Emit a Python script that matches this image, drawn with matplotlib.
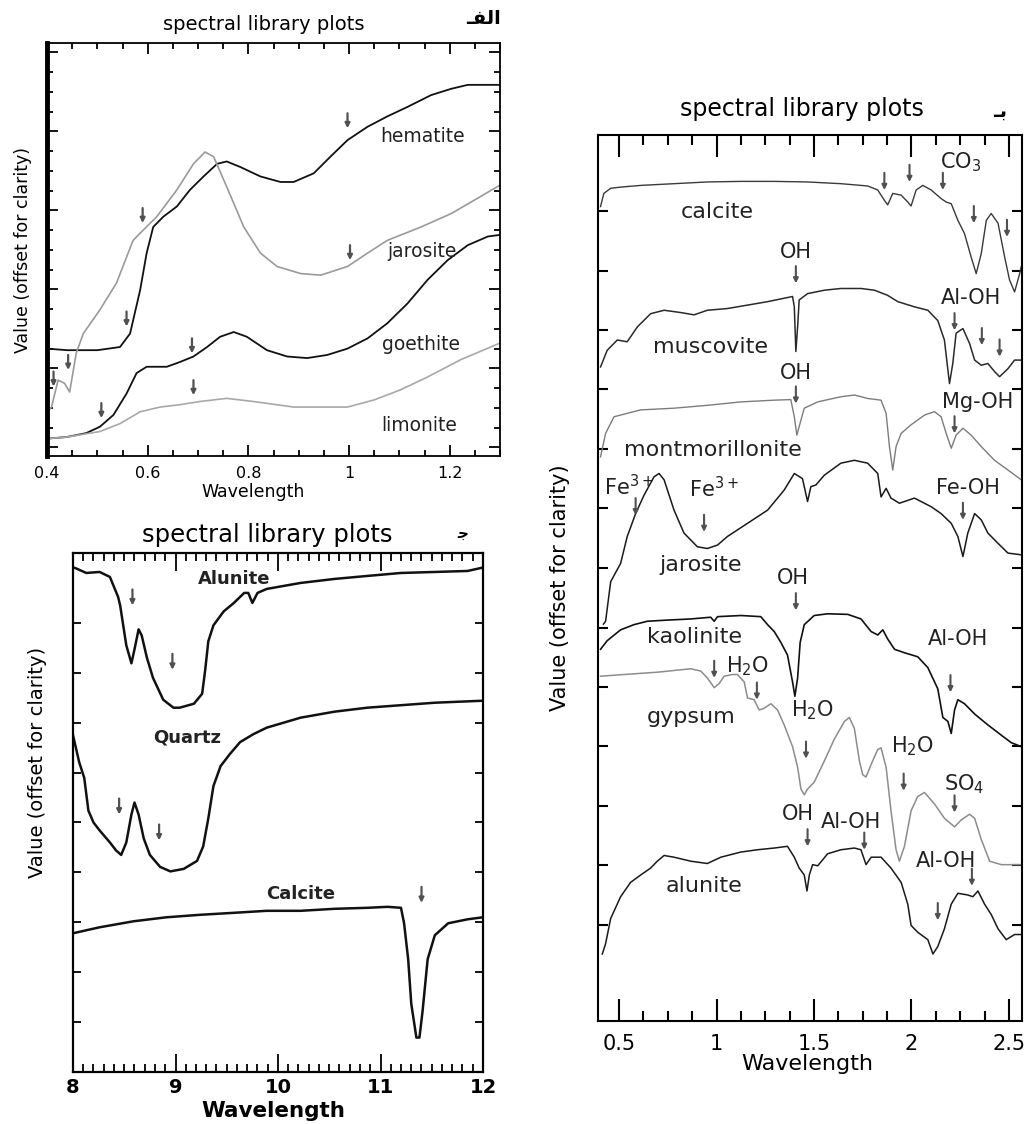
import numpy as np
import matplotlib
matplotlib.use('Agg')
import matplotlib.pyplot as plt

plt.rcParams['font.family'] = ['DejaVu Sans']

W, H = 1025, 1124

# ---- panel A (visible range) ----
a_hem_x = [0.40, 0.44, 0.50, 0.545, 0.565, 0.585, 0.598, 0.611, 0.631, 0.658, 0.684, 0.711, 0.738, 0.757,
           0.784, 0.824, 0.864, 0.89, 0.93, 0.963, 0.997, 1.037, 1.076, 1.116, 1.163, 1.203, 1.236, 1.30]
a_hem_y = [1.36, 1.34, 1.34, 1.38, 1.55, 2.10, 2.57, 2.90, 3.03, 3.16, 3.37, 3.54, 3.70, 3.73,
           3.66, 3.54, 3.47, 3.47, 3.58, 3.79, 4.00, 4.17, 4.30, 4.42, 4.57, 4.65, 4.70, 4.70]
a_jar_x = [0.40, 0.409, 0.422, 0.435, 0.445, 0.458, 0.472, 0.505, 0.538, 0.571, 0.591, 0.618, 0.658, 0.691, 0.714,
           0.731, 0.757, 0.791, 0.824, 0.857, 0.904, 0.944, 0.997, 1.037, 1.076, 1.143, 1.203, 1.249, 1.30]
a_jar_y = [0.55, 0.62, 0.96, 0.92, 0.81, 1.30, 1.55, 1.85, 2.19, 2.73, 2.86, 3.03, 3.37, 3.70, 3.85,
           3.79, 3.41, 2.90, 2.57, 2.40, 2.31, 2.29, 2.40, 2.57, 2.73, 2.90, 3.07, 3.24, 3.43]
a_goe_x = [0.40, 0.439, 0.478, 0.505, 0.532, 0.558, 0.578, 0.598, 0.638, 0.664, 0.691, 0.718, 0.744, 0.771,
           0.797, 0.837, 0.877, 0.917, 0.957, 0.997, 1.037, 1.076, 1.116, 1.156, 1.196, 1.236, 1.276, 1.30]
a_goe_y = [0.22, 0.24, 0.29, 0.37, 0.52, 0.79, 1.05, 1.13, 1.13, 1.19, 1.26, 1.38, 1.51, 1.57,
           1.51, 1.34, 1.26, 1.24, 1.28, 1.36, 1.49, 1.68, 1.93, 2.23, 2.48, 2.67, 2.78, 2.80]
a_lim_x = [0.40, 0.439, 0.505, 0.545, 0.585, 0.625, 0.664, 0.704, 0.757, 0.81, 0.89, 0.944, 0.997, 1.05,
           1.103, 1.156, 1.222, 1.30]
a_lim_y = [0.22, 0.24, 0.31, 0.41, 0.56, 0.62, 0.65, 0.69, 0.73, 0.69, 0.62, 0.62, 0.62, 0.71,
           0.84, 1.00, 1.22, 1.43]
a_names = ['hematite', 'jarosite', 'goethite', 'limonite']
a_name_x = [1.146, 1.146, 1.143, 1.14]
a_name_y = [4.04, 2.59, 1.41, 0.39]
a_arrow_x = [0.997, 0.558, 0.59, 1.002, 0.413, 0.442, 0.508, 0.688, 0.691]
a_arrow_y = [4.15, 1.64, 2.95, 2.48, 0.88, 1.09, 0.48, 1.30, 0.77]
a_ticks = ['0.4', '0.6', '0.8', '1', '1.2']

# ---- panel B (0.4 - 2.5) ----
b_cal_x = [0.405, 0.422, 0.457, 0.508, 0.611, 0.782, 0.953, 1.125, 1.296, 1.467, 1.638, 1.775, 1.827,
           1.861, 1.878, 1.904, 1.947, 1.981, 1.998, 2.024, 2.058, 2.101, 2.152, 2.178, 2.204, 2.238,
           2.272, 2.306, 2.332, 2.358, 2.384, 2.409, 2.444, 2.478, 2.503, 2.529, 2.555, 2.563]
b_cal_y = [13.09, 13.32, 13.41, 13.43, 13.46, 13.49, 13.52, 13.53, 13.53, 13.52, 13.49, 13.45, 13.38,
           13.20, 13.12, 13.32, 13.29, 13.17, 13.10, 13.38, 13.46, 13.38, 13.23, 13.17, 13.14, 12.85,
           12.62, 12.21, 11.92, 12.27, 12.85, 12.97, 12.80, 12.21, 11.81, 11.60, 11.92, 12.04]
b_mus_x = [0.405, 0.439, 0.491, 0.542, 0.594, 0.662, 0.731, 0.816, 0.885, 0.953, 1.056, 1.159, 1.262,
           1.347, 1.39, 1.399, 1.407, 1.416, 1.424, 1.467, 1.553, 1.638, 1.741, 1.81, 1.878, 1.93, 2.015,
           2.084, 2.135, 2.169, 2.195, 2.212, 2.229, 2.264, 2.298, 2.324, 2.358, 2.392, 2.426, 2.452,
           2.495, 2.529, 2.563]
b_mus_y = [10.29, 10.58, 10.76, 10.73, 10.99, 11.22, 11.28, 11.24, 11.20, 11.28, 11.31, 11.37, 11.43,
           11.49, 11.52, 11.34, 10.56, 10.99, 11.46, 11.57, 11.63, 11.66, 11.66, 11.63, 11.54, 11.43, 11.34,
           11.28, 11.10, 10.76, 10.00, 10.35, 10.88, 10.96, 10.70, 10.41, 10.32, 10.35, 10.21, 10.12,
           10.26, 10.41, 10.41]
b_mon_x = [0.405, 0.431, 0.474, 0.542, 0.611, 0.782, 0.953, 1.125, 1.296, 1.381, 1.399, 1.412, 1.424,
           1.45, 1.519, 1.638, 1.707, 1.775, 1.844, 1.87, 1.887, 1.904, 1.921, 1.947, 1.998, 2.067, 2.118,
           2.152, 2.178, 2.204, 2.229, 2.264, 2.306, 2.358, 2.426, 2.495, 2.563]
b_mon_y = [8.72, 9.13, 9.42, 9.48, 9.54, 9.57, 9.62, 9.68, 9.71, 9.72, 9.42, 9.10, 9.25,
           9.57, 9.68, 9.77, 9.80, 9.74, 9.71, 9.48, 8.90, 8.49, 8.90, 9.13, 9.28, 9.45, 9.51,
           9.42, 9.13, 8.87, 9.10, 9.22, 9.10, 8.90, 8.66, 8.49, 8.32]
b_jar_x = [0.42, 0.431, 0.457, 0.508, 0.542, 0.585, 0.628, 0.679, 0.705, 0.731, 0.782, 0.833, 0.902,
           0.953, 1.005, 1.056, 1.159, 1.262, 1.347, 1.399, 1.441, 1.467, 1.484, 1.51, 1.553, 1.638, 1.707,
           1.775, 1.827, 1.844, 1.87, 1.895, 1.938, 2.015, 2.101, 2.152, 2.204, 2.238, 2.264, 2.289, 2.324,
           2.358, 2.392, 2.444, 2.495, 2.563]
b_jar_y = [5.80, 5.85, 6.54, 6.86, 7.33, 7.73, 8.05, 8.37, 8.43, 8.32, 7.79, 7.39, 7.15,
           7.12, 7.18, 7.33, 7.56, 7.79, 8.14, 8.43, 8.34, 7.94, 8.20, 8.23, 8.40, 8.61, 8.66,
           8.61, 8.43, 8.02, 8.17, 8.00, 7.91, 8.00, 7.85, 7.73, 7.56, 7.33, 6.98, 7.39, 7.73,
           7.62, 7.39, 7.21, 7.04, 7.01]
b_kao_x = [0.405, 0.439, 0.508, 0.576, 0.645, 0.748, 0.868, 0.970, 0.988, 1.005, 1.125, 1.227, 1.262,
           1.296, 1.33, 1.364, 1.39, 1.402, 1.416, 1.429, 1.45, 1.501, 1.57, 1.673, 1.741, 1.793, 1.827,
           1.853, 1.878, 1.913, 1.964, 2.032, 2.084, 2.135, 2.161, 2.187, 2.204, 2.221, 2.238, 2.272,
           2.324, 2.392, 2.461, 2.512, 2.563]
b_kao_y = [5.36, 5.51, 5.70, 5.79, 5.85, 5.87, 5.89, 5.92, 5.85, 5.93, 5.95, 5.93, 5.79,
           5.67, 5.48, 5.26, 4.79, 4.54, 4.86, 5.48, 5.79, 5.95, 5.98, 5.97, 5.89, 5.67, 5.61,
           5.70, 5.54, 5.36, 5.30, 5.23, 5.04, 4.67, 4.17, 4.10, 3.89, 4.30, 4.48, 4.41,
           4.23, 4.04, 3.86, 3.73, 3.66]
b_gyp_x = [0.405, 0.525, 0.696, 0.868, 0.919, 0.953, 0.988, 1.013, 1.039, 1.082, 1.107, 1.142, 1.159,
           1.193, 1.219, 1.244, 1.279, 1.313, 1.347, 1.39, 1.416, 1.433, 1.45, 1.467, 1.501, 1.553, 1.604,
           1.656, 1.681, 1.707, 1.733, 1.75, 1.767, 1.793, 1.827, 1.844, 1.87, 1.895, 1.921, 1.938, 1.964,
           1.998, 2.032, 2.067, 2.118, 2.169, 2.221, 2.255, 2.298, 2.324, 2.358, 2.401, 2.461, 2.563]
b_gyp_y = [4.89, 4.92, 4.96, 5.02, 4.98, 4.86, 4.69, 4.76, 4.89, 4.92, 4.92, 4.79, 4.51,
           4.48, 4.30, 4.33, 4.41, 4.30, 4.04, 3.66, 3.30, 2.92, 2.82, 2.92, 3.04, 3.41, 3.79,
           4.10, 4.17, 3.98, 3.41, 3.17, 3.13, 3.35, 3.61, 3.64, 3.30, 2.54, 1.86, 1.66, 1.92,
           2.54, 2.79, 2.86, 2.66, 2.41, 2.26, 2.38, 2.48, 2.41, 2.04, 1.66, 1.60, 1.60]
b_alu_x = [0.414, 0.431, 0.457, 0.508, 0.559, 0.611, 0.662, 0.696, 0.731, 0.782, 0.868, 0.953, 1.022,
           1.125, 1.21, 1.296, 1.364, 1.399, 1.424, 1.45, 1.464, 1.476, 1.493, 1.519, 1.57, 1.638, 1.707,
           1.741, 1.767, 1.793, 1.844, 1.895, 1.947, 1.981, 1.998, 2.032, 2.084, 2.11, 2.135, 2.169, 2.204,
           2.238, 2.289, 2.315, 2.341, 2.375, 2.409, 2.444, 2.486, 2.529, 2.563]
b_alu_y = [0.04, 0.22, 0.66, 1.04, 1.29, 1.42, 1.54, 1.66, 1.76, 1.73, 1.66, 1.62, 1.73,
           1.82, 1.86, 1.89, 1.92, 1.73, 1.54, 1.42, 1.14, 1.42, 1.60, 1.58, 1.79, 1.86, 1.89,
           1.86, 1.60, 1.73, 1.73, 1.54, 1.29, 0.91, 0.54, 0.42, 0.29, 0.04, 0.17, 0.48, 0.91,
           1.10, 1.07, 1.04, 1.14, 0.91, 0.73, 0.48, 0.29, 0.38, 0.38]
b_names = ['calcite', 'muscovite', 'montmorillonite', 'jarosite', 'kaolinite', 'gypsum', 'alunite']
b_name_x = [1.005, 0.97, 0.979, 0.919, 0.885, 0.868, 0.936]
b_name_y = [13.0, 10.64, 8.84, 6.83, 5.58, 4.17, 1.23]
b_feat = ['OH', 'CO$_3$', 'Al-OH', 'OH', 'Mg-OH', 'Fe$^{3+}$', 'Fe$^{3+}$', 'Fe-OH', 'OH', 'Al-OH',
          'H$_2$O', 'H$_2$O', 'H$_2$O', 'SO$_4$', 'OH', 'Al-OH', 'Al-OH']
b_feat_x = [1.407, 2.25, 2.306, 1.407, 2.341, 0.551, 0.988, 2.289, 1.39, 2.238,
            1.159, 1.493, 2.007, 2.272, 1.416, 1.69, 2.178]
b_feat_y = [12.30, 13.87, 11.49, 10.18, 9.68, 8.20, 8.17, 8.17, 6.61, 5.54,
            5.07, 4.30, 3.66, 3.01, 2.48, 2.35, 1.66]
b_arrow_x = [1.861, 1.99, 2.161, 2.32, 2.49, 1.407, 2.221, 2.361, 2.452, 1.407, 2.221, 0.585, 0.936,
             2.264, 1.407, 2.2, 0.988, 1.207, 1.459, 1.96, 2.221, 1.467, 1.758, 2.31, 2.135]
b_arrow_y = [13.38, 13.52, 13.38, 12.80, 12.56, 11.75, 10.93, 10.67, 10.47, 9.65, 9.13, 7.70, 7.41,
             7.62, 6.04, 4.61, 4.86, 4.48, 3.45, 2.89, 2.51, 1.92, 1.86, 1.23, 0.63]
b_ticks = ['0.5', '1', '1.5', '2', '2.5']

# ---- panel C (8 - 12) ----
c_alu_x = [8.02, 8.13, 8.26, 8.36, 8.44, 8.46, 8.52, 8.57, 8.60, 8.64, 8.67, 8.72, 8.78, 8.88, 8.98,
           9.04, 9.18, 9.26, 9.29, 9.32, 9.37, 9.47, 9.57, 9.67, 9.71, 9.75, 9.80, 9.89, 10.22, 10.55,
           10.87, 11.2, 11.53, 11.85, 11.98]
c_alu_y = [10.10, 10.0, 10.02, 9.92, 9.52, 9.35, 8.55, 8.19, 8.47, 8.87, 8.75, 8.31, 7.90, 7.46, 7.30,
           7.30, 7.38, 7.58, 8.06, 8.63, 8.95, 9.23, 9.40, 9.60, 9.60, 9.40, 9.60, 9.68, 9.80, 9.88,
           9.94, 10.0, 10.02, 10.04, 10.10]
c_qtz_x = [8.0, 8.06, 8.11, 8.15, 8.2, 8.26, 8.36, 8.42, 8.47, 8.52, 8.57, 8.60, 8.64, 8.69, 8.75,
           8.85, 8.95, 9.08, 9.21, 9.27, 9.32, 9.37, 9.44, 9.53, 9.63, 9.76, 9.89, 10.22, 10.55, 10.87,
           11.2, 11.53, 12.0]
c_qtz_y = [6.75, 6.21, 5.89, 5.24, 5.0, 4.84, 4.60, 4.44, 4.35, 4.60, 5.16, 5.40, 5.16, 4.68, 4.35,
           4.11, 4.02, 4.07, 4.23, 4.52, 5.08, 5.73, 6.13, 6.37, 6.61, 6.77, 6.90, 7.10, 7.22, 7.30,
           7.35, 7.40, 7.44]
c_cal_x = [8.0, 8.26, 8.59, 8.91, 9.24, 9.57, 9.89, 10.22, 10.55, 10.87, 11.07, 11.2, 11.23, 11.27,
           11.3, 11.35, 11.38, 11.41, 11.46, 11.53, 11.66, 11.85, 12.0]
c_cal_y = [2.78, 2.90, 3.02, 3.10, 3.15, 3.19, 3.23, 3.23, 3.27, 3.29, 3.31, 3.29, 2.98, 2.26,
           1.37, 0.69, 0.69, 1.21, 2.26, 2.74, 2.98, 3.06, 3.10]
c_names = ['Alunite', 'Quartz', 'Calcite']
c_name_x = [9.57, 9.11, 10.22]
c_name_y = [9.88, 6.71, 3.56]
c_arrow_x = [8.58, 8.97, 8.45, 8.84, 11.40]
c_arrow_y = [9.35, 8.06, 5.16, 4.64, 3.39]
c_ticks = ['8', '9', '10', '11', '12']


def box(left, top, right, bottom):
    return [left / W, 1 - bottom / H, (right - left) / W, (bottom - top) / H]


def ftext(x, y, s, **kw):
    fig.text(x / W, 1 - y / H, s, ha='center', va='center', **kw)


def arrows(ax, xs, ys, length, lw):
    for x, y in zip(xs, ys):
        ax.annotate('', xy=(x, y), xytext=(x, y + length),
                    arrowprops=dict(arrowstyle='-|>', color='#505050', lw=lw,
                                    mutation_scale=7, shrinkA=0, shrinkB=0))


fig = plt.figure(figsize=(W / 100, H / 100), dpi=100)

# panel A
axA = fig.add_axes(box(47, 43, 500, 456))
axA.plot(a_hem_x, a_hem_y, color='#111111', lw=1.3)
axA.plot(a_jar_x, a_jar_y, color='#9a9a9a', lw=1.2)
axA.plot(a_goe_x, a_goe_y, color='#111111', lw=1.3)
axA.plot(a_lim_x, a_lim_y, color='#a8a8a8', lw=1.2)
for n, x, y in zip(a_names, a_name_x, a_name_y):
    axA.text(x, y, n, fontsize=13.5, ha='center', va='center', color='#222222')
arrows(axA, a_arrow_x, a_arrow_y, 0.19, 1.6)
axA.set_xlim(0.4, 1.3)
axA.set_ylim(0, 5.23)
axA.set_xticks([0.4, 0.6, 0.8, 1.0, 1.2])
axA.set_xticklabels(a_ticks)
axA.set_xticks(np.arange(0.4, 1.31, 0.05), minor=True)
axA.set_yticks(np.arange(0.11, 5.2, 1.0))
axA.set_yticks(np.arange(0.11, 5.2, 0.25), minor=True)
axA.tick_params(which='both', direction='in', top=True, right=True, labelleft=False,
                labelsize=11.5, pad=7, width=1.3)
axA.tick_params(which='major', length=8)
axA.tick_params(which='minor', length=4.5)
for s in axA.spines.values():
    s.set_linewidth(1.3)
axA.spines['left'].set_linewidth(3.5)
ftext(264, 25, 'spectral library plots', fontsize=14)
ftext(483, 18, '\u0640\uFED4\uFEDF\uFE8D', fontsize=14, fontweight='bold')
ftext(253, 492, 'Wavelength', fontsize=12.5)
ftext(23, 250, 'Value (offset for clarity)', fontsize=12.5, rotation=90)

# panel B
axB = fig.add_axes(box(598, 135, 1022, 1021))
axB.plot(b_cal_x, b_cal_y, color='#3a3a3a', lw=1.0)
axB.plot(b_mus_x, b_mus_y, color='#2a2a2a', lw=1.1)
axB.plot(b_mon_x, b_mon_y, color='#7c7c7c', lw=1.0)
axB.plot(b_jar_x, b_jar_y, color='#1a1a1a', lw=1.1)
axB.plot(b_kao_x, b_kao_y, color='#111111', lw=1.2)
axB.plot(b_gyp_x, b_gyp_y, color='#8c8c8c', lw=1.1)
axB.plot(b_alu_x, b_alu_y, color='#1a1a1a', lw=1.1)
for n, x, y in zip(b_names, b_name_x, b_name_y):
    axB.text(x, y, n, fontsize=16, ha='center', va='center', color='#222222')
for n, x, y in zip(b_feat, b_feat_x, b_feat_y):
    axB.text(x, y, n, fontsize=15, ha='center', va='center', color='#222222')
arrows(axB, b_arrow_x, b_arrow_y, 0.3, 1.5)
axB.set_xlim(0.392, 2.567)
axB.set_ylim(-1.13, 14.34)
axB.set_xticks([0.5, 1.0, 1.5, 2.0, 2.5])
axB.set_xticklabels(b_ticks)
axB.set_xticks(np.arange(0.5, 2.56, 0.125), minor=True)
axB.set_yticks([0.55, 1.59, 2.63, 3.67, 4.71, 5.74, 6.78, 7.82, 8.86, 9.90, 10.93, 11.97, 13.01])
axB.tick_params(which='both', direction='in', top=True, right=True, labelleft=False,
                labelsize=15, pad=9, width=1.5)
axB.tick_params(axis='x', which='major', length=16)
axB.tick_params(axis='x', which='minor', length=7)
axB.tick_params(axis='y', which='major', length=7)
for s in axB.spines.values():
    s.set_linewidth(1.5)
ftext(802, 109, 'spectral library plots', fontsize=17)
ftext(1000, 111, '\u0640\uFE91', fontsize=14, fontweight='bold')
ftext(807, 1064, 'Wavelength', fontsize=16)
ftext(560, 588, 'Value (offset for clarity)', fontsize=15, rotation=90)

# panel C
axC = fig.add_axes(box(73, 553, 483, 1072))
axC.plot(c_alu_x, c_alu_y, color='#111111', lw=1.8)
axC.plot(c_qtz_x, c_qtz_y, color='#111111', lw=1.8)
axC.plot(c_cal_x, c_cal_y, color='#111111', lw=1.8)
for n, x, y in zip(c_names, c_name_x, c_name_y):
    axC.text(x, y, n, fontsize=13, ha='center', va='center', fontweight='bold', color='#222222')
arrows(axC, c_arrow_x, c_arrow_y, 0.32, 1.6)
axC.set_xlim(8, 12)
axC.set_ylim(0, 10.4)
axC.set_xticks([8, 9, 10, 11, 12])
axC.set_xticklabels(c_ticks, fontweight='bold')
axC.set_xticks(np.arange(8, 12.01, 0.1), minor=True)
axC.set_yticks(np.arange(1, 10))
axC.tick_params(which='both', direction='in', top=True, right=True, labelleft=False,
                labelsize=14, pad=4, width=1.3)
axC.tick_params(axis='x', which='major', length=13)
axC.tick_params(axis='x', which='minor', length=6)
axC.tick_params(axis='y', which='major', length=6)
for s in axC.spines.values():
    s.set_linewidth(1.6)
ftext(267, 535, 'spectral library plots', fontsize=17.5)
ftext(463, 533, '\uFE9F', fontsize=11, fontweight='bold')
ftext(273, 1111, 'Wavelength', fontsize=15.5, fontweight='bold')
ftext(38, 762, 'Value (offset for clarity)', fontsize=14, rotation=90)

fig.savefig('out.png', dpi=100, facecolor='white')
